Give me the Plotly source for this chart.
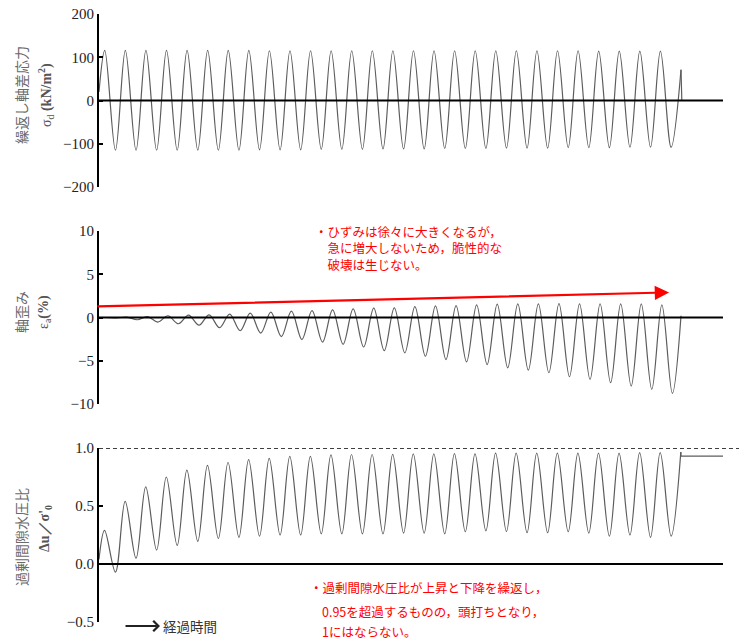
import plotly.graph_objects as go

# the html body adds an 8px margin at the top-left; figure fills the rest of the 747x641 window
PAGE_W, PAGE_H, OFF = 747, 641, 8
W, H = PAGE_W - OFF, PAGE_H - OFF

# ---------------- data (x = elapsed loading cycles) ----------------
# cyclic deviator stress sigma_d (kN/m2): peak / trough of each cycle
stress_peak = [116, 116, 116, 116, 116, 116, 116, 116, 115, 115, 115, 115, 115, 115,
               115, 115, 115, 115, 115, 115, 115, 115, 115, 115, 114, 114, 114, 114]
stress_trough = [-115, -115, -115, -115, -115, -115, -115, -114, -114, -114, -113, -113, -113, -112,
                 -112, -112, -111, -111, -111, -110, -110, -110, -109, -109, -109, -108, -108, -108]
stress_start = 20
stress_final_peak = 71

# axial strain eps_a (%): top / bottom of each cycle
strain_top = [0.0, 0.05, 0.11, 0.2, 0.28, 0.31, 0.39, 0.5, 0.62, 0.74, 0.8, 0.89, 1.0, 1.08,
              1.12, 1.26, 1.34, 1.38, 1.46, 1.54, 1.57, 1.57, 1.61, 1.57, 1.57, 1.57, 1.57, 1.46]
strain_bottom = [-0.05, -0.26, -0.53, -0.72, -0.89, -1.18, -1.53, -1.8, -2.2, -2.55, -2.84, -3.1, -3.41, -3.83,
                 -4.09, -4.48, -4.86, -5.13, -5.44, -5.82, -6.09, -6.39, -6.85, -7.16, -7.54, -7.93, -8.31, -8.77]
strain_start = 0.0
strain_end = 0.2

# excess pore water pressure ratio du/sigma'0: peak / trough of each cycle
pore_peak = [0.29, 0.54, 0.665, 0.75, 0.81, 0.85, 0.875, 0.90, 0.91, 0.927, 0.927, 0.94, 0.944, 0.944,
             0.945, 0.95, 0.95, 0.952, 0.95, 0.955, 0.955, 0.955, 0.955, 0.955, 0.955, 0.955, 0.96, 0.96, 0.965]
pore_trough = [-0.07, 0.05, 0.12, 0.16, 0.195, 0.22, 0.23, 0.24, 0.25, 0.25, 0.26, 0.26, 0.26, 0.26,
               0.267, 0.267, 0.26, 0.278, 0.286, 0.28, 0.27, 0.27, 0.278, 0.267, 0.24, 0.25, 0.23, 0.24]
pore_start = 0.04
pore_final = 0.93

# phases inside one cycle where extremes occur
stress_phase = (0.28, 0.80)
strain_phase = (0.35, 0.86)
pore_phase = (0.27, 0.80)
end_cycle = 28.28          # loading stops
zero_line_end = 30.32      # extent of reference lines
CYCLE_PX = 20.58           # horizontal scale: pixels per loading cycle

trend_start = (-0.15, 1.27)   # red trend arrow (cycles, %)
trend_end = (27.7, 2.9)

y1_ticks = [-200, -100, 0, 100, 200]
y2_ticks = [-10, -5, 0, 5, 10]
y3_ticks = [-0.5, 0.0, 0.5, 1.0]
y3_text = ["−0.5", "0.0", "0.5", "1.0"]


def interleave(first, second, phases, start, end_pt=None):
    xs, ys = [0.0], [start]
    for k in range(max(len(first), len(second))):
        if k < len(first):
            xs.append(k + phases[0]); ys.append(first[k])
        if k < len(second):
            xs.append(k + phases[1]); ys.append(second[k])
    if end_pt is not None:
        xs.append(end_pt[0]); ys.append(end_pt[1])
    return xs, ys


sx, sy = interleave(stress_peak, stress_trough, stress_phase, stress_start, (end_cycle, stress_final_peak))
ex, ey = interleave(strain_top, strain_bottom, strain_phase, strain_start, (end_cycle, strain_end))
px_, py_ = interleave(pore_peak, pore_trough, pore_phase, pore_start)

gray = "#5c5c5c"
fig = go.Figure()
spl = dict(color=gray, width=1.2, shape="spline", smoothing=1.0)
fig.add_trace(go.Scatter(x=sx, y=sy, xaxis="x", yaxis="y", mode="lines", line=spl))
fig.add_trace(go.Scatter(x=[end_cycle, end_cycle + 0.04, end_cycle + 1.0], y=[stress_final_peak, 0, 0],
                         xaxis="x", yaxis="y", mode="lines", line=dict(color=gray, width=1.2)))
fig.add_trace(go.Scatter(x=ex, y=ey, xaxis="x2", yaxis="y2", mode="lines", line=spl))
fig.add_trace(go.Scatter(x=px_, y=py_, xaxis="x3", yaxis="y3", mode="lines", line=spl))
fig.add_trace(go.Scatter(x=[px_[-1], end_cycle, zero_line_end], y=[py_[-1], pore_final, pore_final],
                         xaxis="x3", yaxis="y3", mode="lines", line=dict(color=gray, width=1.2)))


def ydom(top_px, bot_px):
    return [1 - (bot_px - OFF) / H, 1 - (top_px - OFF) / H]


left_px, right_px = 99, 745
xdom = [(left_px - OFF) / W, (right_px - OFF) / W]
x_max = (right_px - left_px) / CYCLE_PX
tickfont = dict(family="Liberation Serif", size=15, color="#222")
yax = dict(showline=True, linecolor="black", linewidth=2, ticks="inside", ticklen=4, tickwidth=2,
           tickcolor="black", showgrid=False, zeroline=False, tickfont=tickfont, automargin=False,
           ticklabeloverflow="allow")
xax = dict(domain=xdom, range=[0, x_max], visible=False, automargin=False)

fig.update_layout(
    width=W, height=H, margin=dict(l=0, r=0, t=0, b=0, autoexpand=False),
    paper_bgcolor="white", plot_bgcolor="white", showlegend=False,
    xaxis=dict(anchor="y", **xax),
    xaxis2=dict(anchor="y2", **xax),
    xaxis3=dict(anchor="y3", **xax),
    yaxis=dict(anchor="x", domain=ydom(14, 187), range=[-200, 200], tickvals=y1_ticks, **yax),
    yaxis2=dict(anchor="x2", domain=ydom(231, 404), range=[-10, 10], tickvals=y2_ticks, **yax),
    yaxis3=dict(anchor="x3", domain=ydom(448, 622), range=[-0.5, 1.0], tickvals=y3_ticks,
                ticktext=y3_text, **yax),
)

# reference lines
for xr, yr in (("x", "y"), ("x2", "y2"), ("x3", "y3")):
    fig.add_shape(type="line", xref=xr, yref=yr, x0=0, x1=zero_line_end, y0=0, y1=0,
                  line=dict(color="black", width=2))
fig.add_shape(type="line", xref="x3 domain", yref="y3", x0=0, x1=1, y0=1, y1=1,
              line=dict(color="black", width=1.5, dash="4px,3px"))


def P(xp, yp):
    return (xp - OFF) / W, 1 - (yp - OFF) / H


jp = "Noto Sans CJK JP"
ann = []


def title(text, xp, yp, font):
    x, y = P(xp, yp)
    ann.append(dict(text=text, x=x, y=y, xref="paper", yref="paper", textangle=-90,
                    xanchor="center", yanchor="middle", showarrow=False, font=font))


tjp = dict(family=jp, size=14, color="#6a6a6a")
tsym = dict(family="Liberation Serif", size=14, color="#555")
title("繰返し軸差応力", 21, 95, tjp)
title("σ<sub>d</sub> <b>(kN/m<sup>2</sup>)</b>", 46, 95, tsym)
title("軸歪み", 21, 312, tjp)
title("ε<sub>a</sub><b>(%)</b>", 44, 312, tsym)
title("過剰間隙水圧比", 21, 537, tjp)
title("<b>Δu／σ'<sub>0</sub></b>", 45, 529, tsym)

red = dict(family=jp, size=12.5, color="#ff0000")


def note(text, xp, yp, font=red, yanchor="middle"):
    x, y = P(xp, yp)
    ann.append(dict(text=text, x=x, y=y, xref="paper", yref="paper", xanchor="left",
                    yanchor=yanchor, align="left", showarrow=False, font=font))


note("・ひずみは徐々に大きくなるが，<br>　急に増大しないため，脆性的な<br>　破壊は生じない。", 313, 248)
note("・過剰間隙水圧比が上昇と下降を繰返し，", 308, 587)
note("0.95を超過するものの，頭打ちとなり，", 320, 611)
note("1にはならない。", 320, 631)
note("経過時間", 161, 626, dict(family=jp, size=13.5, color="#333"))

# elapsed-time arrow
ax_, ay_ = P(160, 626)
ann.append(dict(text="", x=ax_, y=ay_, xref="paper", yref="paper", ax=-36, ay=0,
                showarrow=True, arrowhead=4, arrowsize=1.0, arrowwidth=2, arrowcolor="#222"))

# red trend arrow on strain panel
ann.append(dict(text="", x=trend_end[0], y=trend_end[1], xref="x2", yref="y2",
                ax=trend_start[0], ay=trend_start[1], axref="x2", ayref="y2",
                showarrow=True, arrowhead=2, arrowsize=1.3, arrowwidth=2.2, arrowcolor="#ff0000"))

fig.update_layout(annotations=ann)
fig.write_html("out.html")
